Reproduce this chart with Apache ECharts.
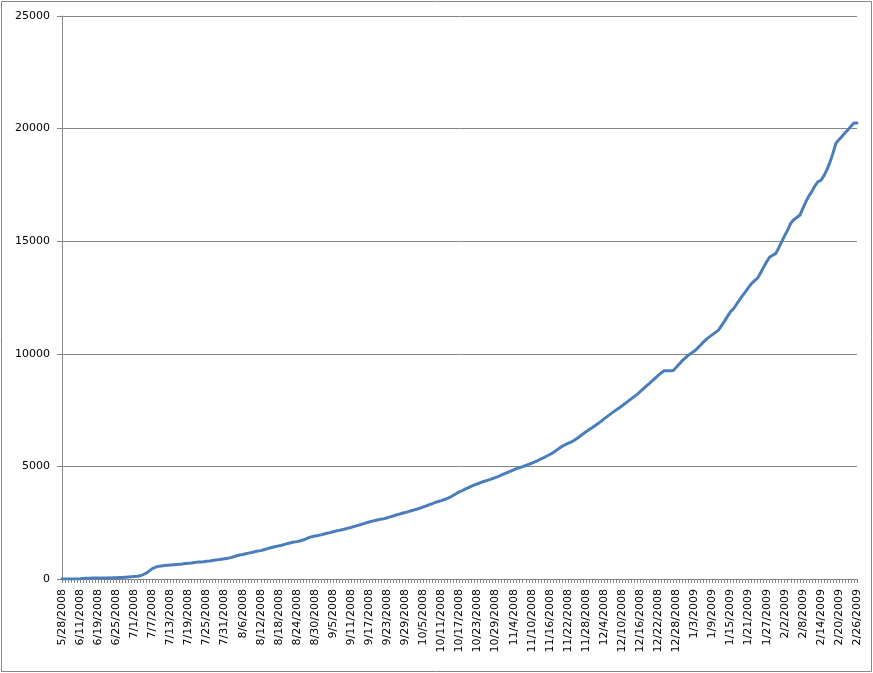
<!DOCTYPE html>
<html>
<head>
<meta charset="utf-8">
<script src="https://cdn.jsdelivr.net/npm/echarts@6/dist/echarts.min.js"></script>
<style>
html,body{margin:0;padding:0;background:#fff;}
#chart{width:873px;height:673px;}
</style>
</head>
<body>
<div id="chart"></div>
<script>
// First categories (irregular dates before daily records begin)
var earlyDates = ['5/28/2008','5/30/2008','6/2/2008','6/4/2008','6/6/2008','6/9/2008',
                  '6/11/2008','6/12/2008','6/13/2008','6/16/2008','6/17/2008','6/18/2008'];
// Daily records start/end
var dailyStart = [2008, 6, 19];
var dailyEnd = [2009, 2, 26];

var values = [
  0,0,0,0,0,5,10,20,30,35,40,40,
  40,42,45,48,50,55,60,65,70,80,90,100,
  110,120,140,200,260,360,460,520,560,580,600,610,
  620,630,640,650,670,690,700,710,730,750,755,770,
  790,800,820,840,860,880,900,920,950,990,1030,1065,
  1090,1120,1150,1180,1210,1240,1260,1300,1340,1380,1410,1440,
  1470,1500,1540,1580,1610,1640,1660,1690,1730,1780,1840,1880,
  1910,1930,1960,2000,2030,2060,2100,2130,2160,2190,2220,2260,
  2290,2330,2370,2410,2450,2490,2530,2570,2600,2630,2660,2680,
  2720,2760,2800,2840,2880,2920,2950,2990,3030,3070,3110,3150,
  3200,3250,3300,3350,3400,3440,3480,3530,3580,3640,3720,3800,
  3870,3930,4000,4060,4120,4180,4230,4280,4330,4370,4410,4460,
  4510,4560,4620,4680,4730,4790,4850,4900,4950,4990,5040,5090,
  5140,5200,5260,5330,5390,5460,5530,5610,5700,5790,5880,5960,
  6025,6080,6150,6240,6340,6440,6540,6630,6720,6810,6900,7000,
  7110,7210,7310,7410,7500,7590,7690,7790,7900,8000,8100,8200,
  8320,8440,8560,8680,8800,8920,9040,9150,9250,9250,9250,9260,
  9400,9550,9700,9820,9940,10030,10120,10240,10380,10520,10650,10750,
  10850,10950,11050,11250,11450,11660,11870,12000,12200,12400,12580,12760,
  12950,13120,13250,13360,13600,13850,14090,14300,14380,14450,14700,14980,
  15250,15500,15800,15950,16050,16150,16450,16750,17000,17200,17450,17640,
  17700,17900,18165,18500,18900,19350,19500,19650,19800,19950,20100,20250,
  20250
];

var yMin = 0, yMax = 25000, yInterval = 5000;

var categories = earlyDates.slice();
var d = new Date(dailyStart[0], dailyStart[1]-1, dailyStart[2]);
var end = new Date(dailyEnd[0], dailyEnd[1]-1, dailyEnd[2]);
while (d <= end) {
  categories.push((d.getMonth()+1) + '/' + d.getDate() + '/' + d.getFullYear());
  d.setDate(d.getDate()+1);
}

var chart = echarts.init(document.getElementById('chart'), null, {renderer:'canvas'});
var axisColor = '#868686';
var font = 'DejaVu Sans, Verdana, sans-serif';
chart.setOption({
  animation: false,
  backgroundColor: '#ffffff',
  graphic: [{
    type: 'rect', silent: true, z: -1,
    shape: {x: 1.5, y: 1.5, width: 870, height: 670},
    style: {fill: 'none', stroke: axisColor, lineWidth: 1}
  }],
  grid: {left: 62, right: 16, top: 16, bottom: 94, containLabel: false},
  xAxis: {
    type: 'category',
    data: categories,
    boundaryGap: false,
    axisLine: {show: true, lineStyle: {color: axisColor, width: 1}},
    axisTick: {show: true, interval: 0, length: 4, lineStyle: {color: axisColor}},
    axisLabel: {interval: 5, rotate: 90, margin: 10, color: '#000', fontFamily: font, fontSize: 11},
    splitLine: {show: false}
  },
  yAxis: {
    type: 'value',
    min: yMin, max: yMax, interval: yInterval,
    axisLine: {show: true, lineStyle: {color: axisColor, width: 1}},
    axisTick: {show: true, length: 5, lineStyle: {color: axisColor}},
    axisLabel: {margin: 12, color: '#000', fontFamily: font, fontSize: 11,
                formatter: function (v) { return String(v); }},
    splitLine: {show: true, lineStyle: {color: axisColor, width: 1}}
  },
  series: [{
    type: 'line',
    data: values,
    showSymbol: false,
    smooth: false,
    lineStyle: {color: '#4a7ebb', width: 3, cap: 'round', join: 'round'},
    itemStyle: {color: '#4a7ebb'}
  }]
});
</script>
</body>
</html>
